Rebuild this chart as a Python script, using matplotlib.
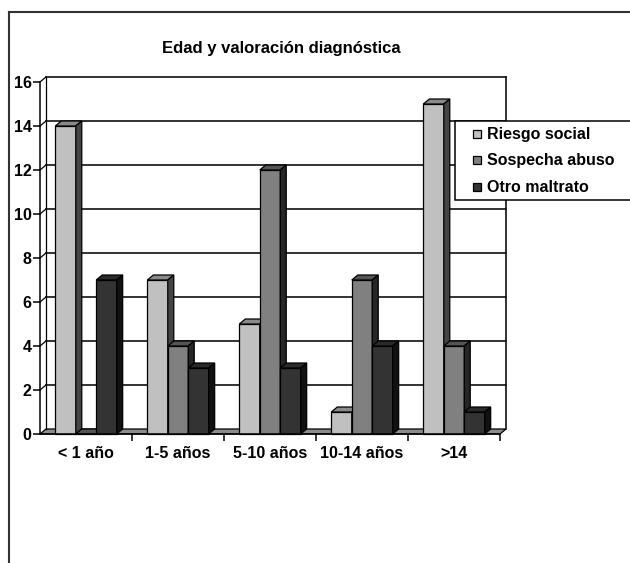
import matplotlib.pyplot as plt
from matplotlib.patches import Polygon, Rectangle
from matplotlib.lines import Line2D

plt.rcParams['font.family'] = ['Liberation Sans', 'DejaVu Sans']
plt.rcParams['font.weight'] = 'bold'

title = "Edad y valoración diagnóstica"
categories = ["< 1 año", "1-5 años", "5-10 años", "10-14 años", ">14"]
series = ["Riesgo social", "Sospecha abuso", "Otro maltrato"]
riesgo_social = [14, 7, 5, 1, 15]
sospecha_abuso = [0, 4, 12, 7, 4]
otro_maltrato = [7, 3, 3, 4, 1]
values = [riesgo_social, sospecha_abuso, otro_maltrato]

# front / top / side shades for each series
front = ['#c0c0c0', '#808080', '#333333']
top = ['#8a8a8a', '#555555', '#2a2a2a']
side = ['#444444', '#262626', '#111111']

W, H = 630, 563
fig = plt.figure(figsize=(W / 100, H / 100), dpi=100)
fig.patch.set_facecolor('white')

# plot area in pixels: x 40..500, y 82..434
ax = fig.add_axes([40 / W, (H - 434) / H, 460 / W, 352 / H])
n = len(categories)
ymax = 16
ax.set_xlim(0, n)
ax.set_ylim(0, ymax)
ax.set_facecolor('none')

# depth offset in data units (about 6 px right, 5 px up)
dx = 6 * n / 460
dy = 5 * ymax / 352

# floor
ax.add_patch(Polygon([(0, 0), (n, 0), (n + dx, dy), (dx, dy)], closed=True,
                     facecolor='#8c8c8c', edgecolor='black', lw=0.9,
                     clip_on=False, zorder=1))
# back wall and side wall gridlines
for v in range(2, ymax + 1, 2):
    ax.add_line(Line2D([dx, n + dx], [v + dy, v + dy], color='#111111', lw=1.2,
                       clip_on=False, zorder=1))
    ax.add_line(Line2D([0, dx], [v, v + dy], color='black', lw=0.9,
                       clip_on=False, zorder=1))
ax.add_line(Line2D([dx, dx], [dy, ymax + dy], color='black', lw=0.9,
                   clip_on=False, zorder=1))
ax.add_line(Line2D([n + dx, n + dx], [dy, ymax + dy], color='#111111', lw=1.2,
                   clip_on=False, zorder=1))

# bars
w = 2 / 9
z = 2
for i in range(n):
    for k in range(len(series)):
        v = values[k][i]
        x0 = i + 1 / 6 + k * w
        ax.bar(x0, v, w, align='edge', color=front[k], edgecolor='black',
               lw=0.9, zorder=z, clip_on=False)
        ax.add_patch(Polygon([(x0, v), (x0 + w, v), (x0 + w + dx, v + dy),
                              (x0 + dx, v + dy)], closed=True,
                             facecolor=top[k], edgecolor='black', lw=0.9,
                             zorder=z, clip_on=False))
        ax.add_patch(Polygon([(x0 + w, 0), (x0 + w + dx, dy),
                              (x0 + w + dx, v + dy), (x0 + w, v)], closed=True,
                             facecolor=side[k], edgecolor='black', lw=0.9,
                             zorder=z, clip_on=False))
        z += 1

# axes
for s in ['top', 'right']:
    ax.spines[s].set_visible(False)
for s in ['left', 'bottom']:
    ax.spines[s].set_linewidth(1.1)
    ax.spines[s].set_zorder(50)
ax.set_yticks(range(0, ymax + 1, 2))
ax.set_yticklabels([str(t) for t in range(0, ymax + 1, 2)], fontsize=11.5,
                   fontweight='bold')
ax.set_xticks(range(1, n + 1))
ax.set_xticklabels([])
ax.set_xticks([i + 0.5 for i in range(n)], minor=True)
ax.set_xticklabels(categories, minor=True, fontsize=11.5, fontweight='bold')
ax.tick_params(axis='y', direction='out', length=5, width=1.1, pad=1)
ax.tick_params(axis='x', which='major', direction='out', length=5, width=1.1)
ax.tick_params(axis='x', which='minor', length=0, pad=9)

fig.text(281 / W, 1 - 48 / H, title, ha='center', va='center',
         fontsize=12, fontweight='bold')

# outer frame (cut by image edges)
fig.add_artist(Line2D([9 / W, 1.0], [1 - 12 / H, 1 - 12 / H],
                      transform=fig.transFigure, color='#333333', lw=1.5))
fig.add_artist(Line2D([9 / W, 9 / W], [1 - 12 / H, 0],
                      transform=fig.transFigure, color='#333333', lw=1.5))

# legend box
fig.add_artist(Rectangle((455 / W, 1 - 200 / H), 200 / W, 79 / H,
                         transform=fig.transFigure, facecolor='white',
                         edgecolor='black', lw=1.1, zorder=60))
for k, name in enumerate(series):
    yc = 134 + k * 26.5
    fig.add_artist(Rectangle((473 / W, 1 - (yc + 4) / H), 8 / W, 8 / H,
                             transform=fig.transFigure, facecolor=front[k],
                             edgecolor='black', lw=0.9, zorder=61))
    fig.text(487 / W, 1 - yc / H, name, ha='left', va='center',
             fontsize=11.5, fontweight='bold', zorder=62)

fig.savefig('out.png', dpi=100)
